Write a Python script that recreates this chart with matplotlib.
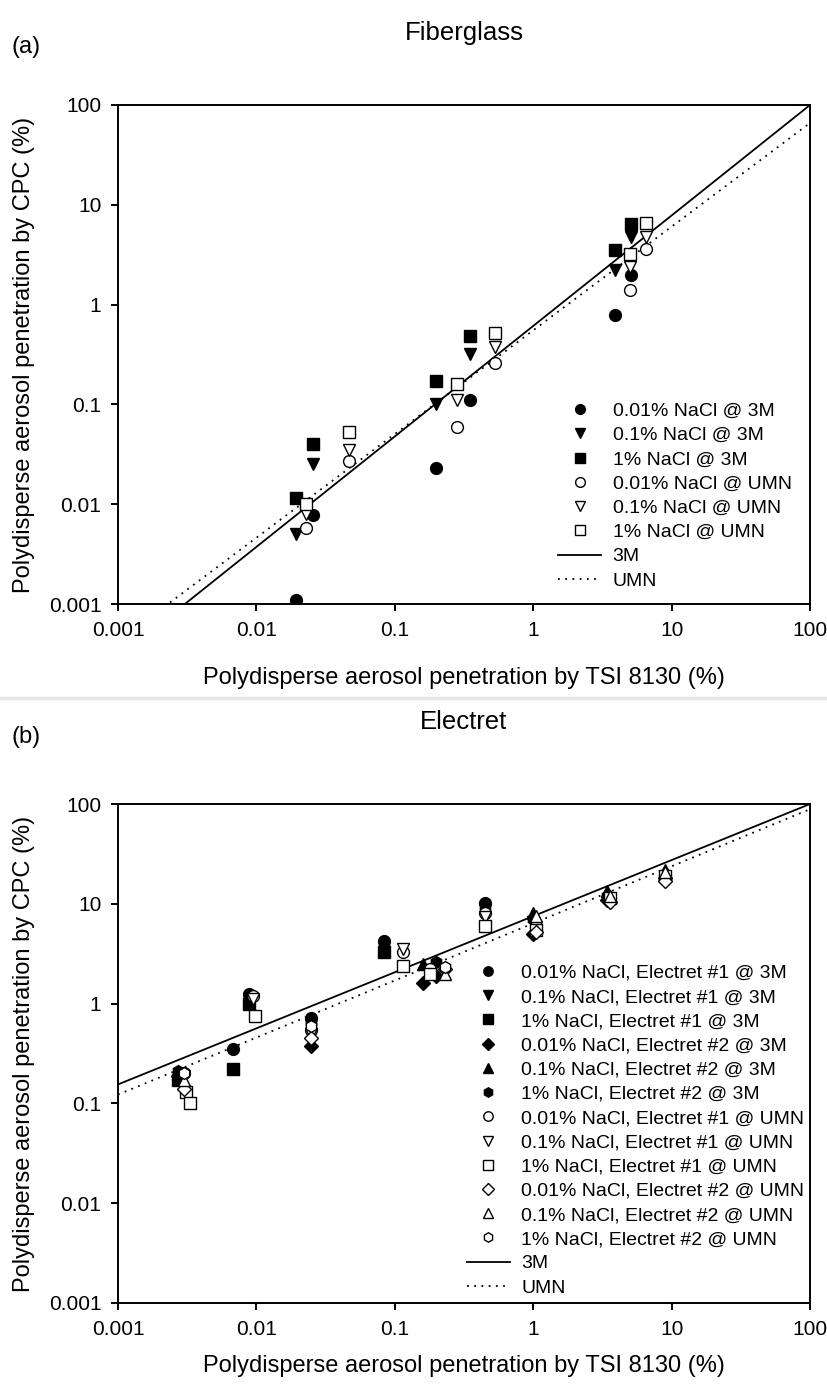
import numpy as np
import matplotlib.pyplot as plt
from matplotlib.ticker import FixedLocator, FixedFormatter, NullLocator
from matplotlib.lines import Line2D

plt.rcParams['font.family'] = ['Liberation Sans', 'DejaVu Sans']

# ---- (a) Fiberglass ----
fg_x_3m = [0.0193, 0.0257, 0.20, 0.35, 3.9, 5.1]
fg_x_umn = [0.023, 0.047, 0.28, 0.53, 5.0, 6.5]
fg_001_3m = [0.0011, 0.0078, 0.023, 0.11, 0.78, 2.0]
fg_01_3m = [0.005, 0.025, 0.10, 0.32, 2.2, 4.8]
fg_1_3m = [0.0115, 0.040, 0.17, 0.48, 3.5, 6.4]
fg_001_umn = [0.0058, 0.027, 0.060, 0.26, 1.4, 3.6]
fg_01_umn = [0.0080, 0.035, 0.11, 0.38, 2.4, 4.8]
fg_1_umn = [0.010, 0.053, 0.16, 0.52, 3.2, 6.5]
fg_fit_3m = (1.107, -0.214)   # slope, intercept in log-log
fg_fit_umn = (1.039, -0.258)

# ---- (b) Electret ----
el_series = [
    ("0.01% NaCl, Electret #1 @ 3M", 'o', True,
     [0.0068, 0.0088, 0.025, 0.083, 0.45], [0.35, 1.25, 0.72, 4.2, 10.2]),
    ("0.1% NaCl, Electret #1 @ 3M", 'v', True,
     [0.0088, 0.025, 0.45, 1.0], [1.0, 0.62, 8.8, 6.5]),
    ("1% NaCl, Electret #1 @ 3M", 's', True,
     [0.0027, 0.0068, 0.0088, 0.083], [0.17, 0.22, 1.0, 3.3]),
    ("0.01% NaCl, Electret #2 @ 3M", 'D', True,
     [0.0027, 0.025, 0.16, 0.2, 1.0, 3.4, 8.9], [0.19, 0.38, 1.6, 1.9, 5.0, 11.0, 18.0]),
    ("0.1% NaCl, Electret #2 @ 3M", '^', True,
     [0.16, 1.0, 3.4, 8.9], [2.5, 8.0, 13.5, 22.0]),
    ("1% NaCl, Electret #2 @ 3M", 'h', True,
     [0.0027, 0.0088, 0.025, 0.083, 0.2, 0.45, 1.0, 3.4, 8.9],
     [0.21, 1.1, 0.65, 3.8, 2.6, 9.5, 7.0, 12.0, 20.0]),
    ("0.01% NaCl, Electret #1 @ UMN", 'o', False,
     [0.003, 0.0095, 0.025, 0.115, 0.18, 0.45, 1.05, 3.6, 9.0],
     [0.2, 1.2, 0.55, 3.3, 2.2, 8.0, 6.0, 11.0, 19.0]),
    ("0.1% NaCl, Electret #1 @ UMN", 'v', False,
     [0.003, 0.0095, 0.025, 0.115, 0.45], [0.19, 1.1, 0.5, 3.5, 7.3]),
    ("1% NaCl, Electret #1 @ UMN", 's', False,
     [0.0031, 0.0033, 0.0098, 0.115, 0.18, 0.45, 1.05, 3.6, 9.0],
     [0.13, 0.10, 0.75, 2.4, 2.0, 6.0, 5.5, 11.5, 19.0]),
    ("0.01% NaCl, Electret #2 @ UMN", 'D', False,
     [0.003, 0.025, 0.23, 1.05, 3.6, 9.0], [0.14, 0.45, 2.2, 5.2, 10.5, 17.0]),
    ("0.1% NaCl, Electret #2 @ UMN", '^', False,
     [0.003, 0.23, 1.05, 3.6, 9.0], [0.17, 2.0, 7.5, 12.0, 21.0]),
    ("1% NaCl, Electret #2 @ UMN", 'h', False,
     [0.003, 0.025, 0.23], [0.2, 0.6, 2.3]),
]
el_fit_3m = (0.562, 0.876)
el_fit_umn = (0.572, 0.804)

ticks = [0.001, 0.01, 0.1, 1, 10, 100]
tick_labels = ['0.001', '0.01', '0.1', '1', '10', '100']

FS = 14
TICK_FS = 15
LAB_FS = 17


def style_axes(ax, xpad):
    ax.set_xscale('log')
    ax.set_yscale('log')
    ax.set_xlim(0.001, 100)
    ax.set_ylim(0.001, 100)
    for axis in (ax.xaxis, ax.yaxis):
        axis.set_major_locator(FixedLocator(ticks))
        axis.set_major_formatter(FixedFormatter(tick_labels))
        axis.set_minor_locator(NullLocator())
    ax.tick_params(direction='out', length=5, width=1.4, labelsize=TICK_FS, pad=7,
                   top=False, right=False)
    for sp in ax.spines.values():
        sp.set_linewidth(1.4)
    ax.set_xlabel('Polydisperse aerosol penetration by TSI 8130 (%)', fontsize=LAB_FS,
                  labelpad=xpad)
    ax.set_ylabel('Polydisperse aerosol penetration by CPC (%)', fontsize=LAB_FS, labelpad=10)


def draw_fit(ax, fit, ls):
    xs = np.logspace(-3, 2, 200)
    ys = 10 ** (fit[1] + fit[0] * np.log10(xs))
    ax.plot(xs, ys, color='black', lw=1.3, ls=ls, clip_on=True)


def mk(ax, x, y, m, filled, ms):
    ax.plot(x, y, ls='none', marker=m, ms=ms, mec='black', mew=1.0,
            mfc='black' if filled else 'white', zorder=3)


fig = plt.figure(figsize=(8.28, 13.87), dpi=100)

# panel a
ax1 = fig.add_axes([118 / 828, 1 - 604 / 1387, 692 / 828, 499 / 1387])
style_axes(ax1, 20)
draw_fit(ax1, fg_fit_3m, '-')
draw_fit(ax1, fg_fit_umn, (0, (1, 3)))
fg_sets = [
    ('0.01% NaCl @ 3M', 'o', True, fg_x_3m, fg_001_3m),
    ('0.1% NaCl @ 3M', 'v', True, fg_x_3m, fg_01_3m),
    ('1% NaCl @ 3M', 's', True, fg_x_3m, fg_1_3m),
    ('0.01% NaCl @ UMN', 'o', False, fg_x_umn, fg_001_umn),
    ('0.1% NaCl @ UMN', 'v', False, fg_x_umn, fg_01_umn),
    ('1% NaCl @ UMN', 's', False, fg_x_umn, fg_1_umn),
]
handles = []
for lab, m, f, x, y in fg_sets:
    mk(ax1, x, y, m, f, 8.5)
    handles.append(Line2D([], [], ls='none', marker=m, ms=7, mec='black', mew=1.0,
                          mfc='black' if f else 'white', label=lab))
handles.append(Line2D([], [], color='black', lw=1.3, label='3M'))
handles.append(Line2D([], [], color='black', lw=1.3, ls=(0, (1, 3)), label='UMN'))
ax1.legend(handles=handles, loc='upper left', bbox_to_anchor=(0.636, 0.404),
           frameon=False, fontsize=FS, borderpad=0, borderaxespad=0,
           handlelength=2.2, handletextpad=0.6, labelspacing=0.34)

# panel b
ax2 = fig.add_axes([118 / 828, 1 - 1303 / 1387, 692 / 828, 499 / 1387])
style_axes(ax2, 12)
draw_fit(ax2, el_fit_3m, '-')
draw_fit(ax2, el_fit_umn, (0, (1, 3)))
handles = []
for lab, m, f, x, y in el_series:
    ms = 7.5 if m == 'D' else 8.5
    mk(ax2, x, y, m, f, ms)
    handles.append(Line2D([], [], ls='none', marker=m, ms=ms * 0.8, mec='black', mew=1.0,
                          mfc='black' if f else 'white', label=lab))
handles.append(Line2D([], [], color='black', lw=1.3, label='3M'))
handles.append(Line2D([], [], color='black', lw=1.3, ls=(0, (1, 3)), label='UMN'))
ax2.legend(handles=handles, loc='upper left', bbox_to_anchor=(0.504, 0.679),
           frameon=False, fontsize=FS, borderpad=0, borderaxespad=0,
           handlelength=2.2, handletextpad=0.6, labelspacing=0.34)

# titles, panel tags, separator
fig.text(464 / 828, 1 - 33 / 1387, 'Fiberglass', ha='center', va='center', fontsize=18.5)
fig.text(12 / 828, 1 - 47 / 1387, '(a)', ha='left', va='center', fontsize=17)
fig.text(464 / 828, 1 - 722 / 1387, 'Electret', ha='center', va='center', fontsize=18.5)
fig.text(12 / 828, 1 - 737 / 1387, '(b)', ha='left', va='center', fontsize=17)
fig.add_artist(Line2D([0, 1], [1 - 698 / 1387] * 2, color='#e6e6e6', lw=2.5,
                      transform=fig.transFigure))

fig.savefig('out.png', dpi=100)
